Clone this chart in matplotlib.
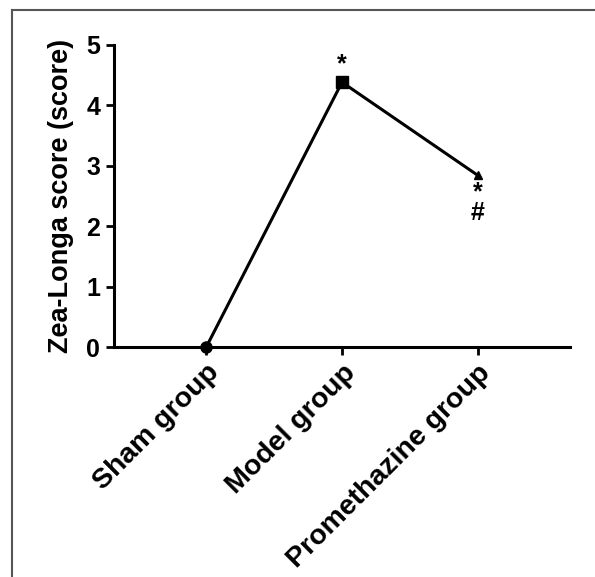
import matplotlib
matplotlib.use("Agg")
import matplotlib.pyplot as plt
from matplotlib.lines import Line2D

plt.rcParams['font.family'] = ['Liberation Sans', 'DejaVu Sans']
plt.rcParams['font.weight'] = 'bold'

# data
groups = ["Sham group", "Model group", "Promethazine group"]
scores = [0.0, 4.38, 2.84]
markers = ["o", "s", "^"]
marks = ["", "*", "*\n#"]

fig = plt.figure(figsize=(5.95, 5.77), dpi=100)
ax = fig.add_axes([0.1916, 0.3986, 0.7664, 0.5239])

x = list(range(len(groups)))
ax.plot(x, scores, color="black", lw=2.2, zorder=2)
for xi, yi, m in zip(x, scores, markers):
    ax.plot(xi, yi, marker=m, color="black", ms=8 if m != "^" else 6, zorder=3, clip_on=False)

# significance marks
ax.text(x[1], scores[1] + 0.1, marks[1], ha="center", va="bottom", fontsize=18)
ax.text(x[2], scores[2] - 0.08, marks[2], ha="center", va="top", fontsize=18, linespacing=0.85)

ax.set_xlim(-0.68, 2.68)
ax.set_ylim(0, 5)
ax.set_yticks(range(6))
ax.set_xticks(x)
ax.set_xticklabels(groups, rotation=45, ha="right", rotation_mode="anchor", fontsize=20.5)
ax.tick_params(axis="y", labelsize=18, width=2, length=6, direction="out", pad=4)
ax.tick_params(axis="x", width=2, length=6, direction="out", pad=3)
ax.set_ylabel("Zea-Longa score (score)", fontsize=19.5, fontweight="bold", labelpad=9)
for s in ["top", "right"]:
    ax.spines[s].set_visible(False)
for s in ["left", "bottom"]:
    ax.spines[s].set_linewidth(2.2)

# frame of the panel (top and left visible)
fig.add_artist(Line2D([0.02, 1.0], [0.982, 0.982], color="#555555", lw=1.5, transform=fig.transFigure))
fig.add_artist(Line2D([0.021, 0.021], [0.0, 0.982], color="#555555", lw=1.5, transform=fig.transFigure))

fig.savefig("out.png", dpi=100)
